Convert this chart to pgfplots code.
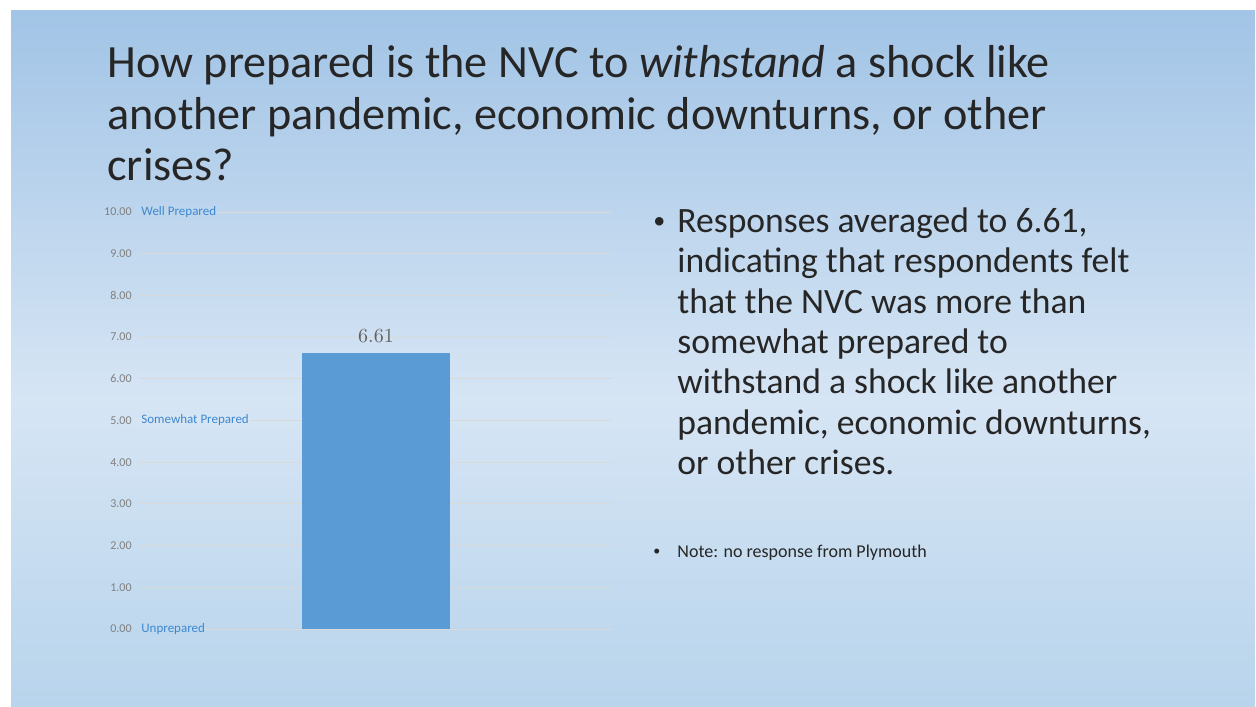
\documentclass[border=0pt]{standalone}
\usepackage{fontspec}
\usepackage{pgfplots}
\pgfplotsset{compat=1.18}
\newfontfamily\calfont{Carlito}
\definecolor{cTop}{HTML}{A2C4E6}
\definecolor{cMid}{HTML}{D6E5F4}
\definecolor{cBot}{HTML}{B8D4EC}
\definecolor{barblue}{HTML}{5B9BD5}
\definecolor{lblblue}{HTML}{3F88CF}
\definecolor{txt}{HTML}{262626}
\pgfdeclareverticalshading{slidebg}{100bp}{color(0bp)=(cBot); color(25bp)=(cBot); color(47bp)=(cMid); color(75bp)=(cTop); color(100bp)=(cTop)}

\begin{document}
\begin{tikzpicture}
  % page and slide background
  \fill[white] (0pt,0pt) rectangle (628pt,-353pt);
  \shade[shading=slidebg] (5.5pt,-5.5pt) rectangle (627.5pt,-353pt);

  % title, one node per line
  \begin{scope}[every node/.style={anchor=base west, inner sep=0pt, text=txt,
      font=\calfont\fontsize{23.1}{28}\selectfont}]
    \node at (53.5pt,-39pt) {How prepared is the NVC to \textit{withstand} a shock like};
    \node at (53.5pt,-64.5pt) {another pandemic, economic downturns, or other};
    \node at (53.5pt,-90pt) {crises?};
  \end{scope}

  % bullet text
  \begin{scope}[every node/.style={anchor=base west, inner sep=0pt, text=txt,
      font=\calfont\fontsize{17.8}{20}\selectfont}]
    \node[font=\calfont\fontsize{12}{14}\selectfont] at (326.5pt,-114pt) {\textbullet};
    \node at (338.5pt,-116pt) {Responses averaged to 6.61,};
    \node at (338.5pt,-136.25pt) {indicating that respondents felt};
    \node at (338.5pt,-156.5pt) {that the NVC was more than};
    \node at (338.5pt,-176.5pt) {somewhat prepared to};
    \node at (338.5pt,-196.5pt) {withstand a shock like another};
    \node at (338.5pt,-217pt) {pandemic, economic downturns,};
    \node at (338.5pt,-237pt) {or other crises.};
  \end{scope}
  \begin{scope}[every node/.style={anchor=base west, inner sep=0pt, text=txt,
      font=\calfont\fontsize{9}{11}\selectfont}]
    \node[font=\calfont\fontsize{7}{8}\selectfont] at (326.5pt,-277.5pt) {\textbullet};
    \node at (338.5pt,-278.5pt) {Note: no response from Plymouth};
  \end{scope}

  \begin{axis}[
    at={(70pt,-314.5pt)}, anchor=south west,
    scale only axis, width=236pt, height=208.5pt,
    ybar, bar width=74pt, clip=false,
    xmin=0, xmax=2, ymin=0, ymax=10,
    axis line style={draw=none},
    ytick={0,1,...,10}, xtick=\empty,
    ymajorgrids, grid style={line width=0.5pt, color=black!15},
    major tick length=0pt,
    yticklabel={\pgfmathprintnumber[fixed,zerofill,precision=2,assume math mode=true]{\tick}},
    yticklabel style={font=\calfont\fontsize{6}{7}\selectfont, text=black!50, inner sep=0pt, xshift=-4pt},
    nodes near coords,
    nodes near coords style={font=\fontsize{10}{12}\selectfont, text=black!62, yshift=1.7pt},
    /pgf/number format/.cd, fixed, precision=2,
  ]
    \addplot[fill=barblue, draw=none] coordinates {(1,6.61)};
    \node[anchor=west, inner sep=0.5pt, fill=cTop!48!cMid, text=lblblue, font=\calfont\fontsize{6.5}{8}\selectfont] at (axis cs:0,10) {Well Prepared};
    \node[anchor=west, inner sep=0.5pt, fill=cMid, text=lblblue, font=\calfont\fontsize{6.5}{8}\selectfont] at (axis cs:0,5) {Somewhat Prepared};
    \node[anchor=west, inner sep=0.5pt, fill=cBot!75!cMid, text=lblblue, font=\calfont\fontsize{6.5}{8}\selectfont] at (axis cs:0,0) {Unprepared};
  \end{axis}
\end{tikzpicture}
\end{document}
